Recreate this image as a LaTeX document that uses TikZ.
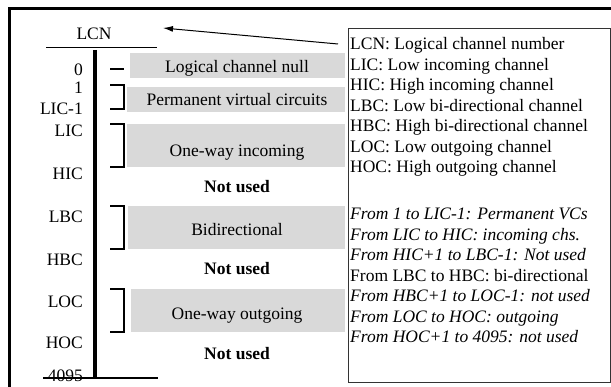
\documentclass[tikz,border=0pt]{standalone}
\usepackage{fontspec}
\setmainfont{Liberation Serif}
\usetikzlibrary{arrows.meta}
\definecolor{boxgray}{HTML}{D9D9D9}
\definecolor{framegray}{HTML}{333333}
\begin{document}
\begin{tikzpicture}[x=1pt,y=-1pt,
  every node/.style={inner sep=0pt, font=\fontsize{17.5}{21}\selectfont},
  axislabel/.style={anchor=base east},
  boxtext/.style={anchor=base},
  legendline/.style={anchor=base west},
  bracketline/.style={line width=1.3pt},
  graybox/.style={fill=boxgray},
  rule/.style={line width=1.3pt}]
\useasboundingbox (0,0) rectangle (611,387);
% outer frame (top and left)
\draw[line width=2.5pt] (9.5,387) -- (9.5,8.5) -- (611,8.5);
% axis
\node (lcn) at (94,40) [anchor=base] {LCN};
\draw[rule] (46,47.5) -- (157,47.5);
\draw[line width=3.5pt] (95,50) -- (95,378);
\node[axislabel] (l4095) at (83,382) {4095};
\draw[rule] (43,378) -- (158,378);
% axis labels
\node[axislabel] (l0) at (83,76) {0};
\node[axislabel] (l1) at (83,94) {1};
\node[axislabel] (llic1) at (83,115) {LIC-1};
\node[axislabel] (llic) at (83,137) {LIC};
\node[axislabel] (lhic) at (83,180) {HIC};
\node[axislabel] (llbc) at (83,223) {LBC};
\node[axislabel] (lhbc) at (83,266) {HBC};
\node[axislabel] (lloc) at (83,308) {LOC};
\node[axislabel] (lhoc) at (83,349) {HOC};
% brackets
\draw[bracketline] (110,69) -- (124,69);
\draw[bracketline] (110,85) -- (124,85) -- (124,109) -- (110,109);
\draw[bracketline] (110,124) -- (124,124) -- (124,167) -- (110,167);
\draw[bracketline] (110,206) -- (124,206) -- (124,249) -- (110,249);
\draw[bracketline] (110,289) -- (124,289) -- (124,332) -- (110,332);
% gray boxes
\fill[graybox] (130,53) rectangle (345,78);
\fill[graybox] (127,87) rectangle (345,112);
\fill[graybox] (127,124) rectangle (345,167);
\fill[graybox] (128,206) rectangle (345,249);
\fill[graybox] (131,289) rectangle (345,332);
% box texts
\node[boxtext] (null) at (237,73) {Logical channel null};
\node[boxtext] (pvc) at (237,106) {Permanent virtual circuits};
\node[boxtext] (inc) at (237,157) {One-way incoming};
\node[boxtext] (nu1) at (237,193) {\bfseries Not used};
\node[boxtext] (bid) at (237,236) {Bidirectional};
\node[boxtext] (nu2) at (237,275) {\bfseries Not used};
\node[boxtext] (out) at (237,320) {One-way outgoing};
\node[boxtext] (nu3) at (237,360) {\bfseries Not used};
% legend box
\draw[framegray, line width=1pt] (348,29) rectangle (610,383);
\node[legendline] (g1) at (350,50) {LCN: Logical channel number};
\node[legendline] (g2) at (350,70.5) {LIC: Low incoming channel};
\node[legendline] (g3) at (350,91) {HIC: High incoming channel};
\node[legendline] (g4) at (350,111.5) {LBC: Low bi-directional channel};
\node[legendline] (g5) at (350,132) {HBC: High bi-directional channel};
\node[legendline] (g6) at (350,152.5) {LOC: Low outgoing channel};
\node[legendline] (g7) at (350,173) {HOC: High outgoing channel};
\node[legendline] (r1) at (350,220) {\itshape From 1 to LIC-1: Permanent VCs};
\node[legendline] (r2) at (350,240.5) {\itshape From LIC to HIC: incoming chs.};
\node[legendline] (r3) at (350,261) {\itshape From HIC+1 to LBC-1: Not used};
\node[legendline] (r4) at (350,281.5) {From LBC to HBC: bi-directional};
\node[legendline] (r5) at (350,302) {\itshape From HBC+1 to LOC-1: not used};
\node[legendline] (r6) at (350,322.5) {\itshape From LOC to HOC: outgoing};
\node[legendline] (r7) at (350,343) {\itshape From HOC+1 to 4095: not used};
% arrow
\coordinate (arrowtail) at (338,44);
\coordinate (arrowtip) at (163,28);
\draw[line width=1pt, -{Latex[length=10pt,width=6pt]}] (arrowtail) -- (arrowtip);
\end{tikzpicture}
\end{document}
